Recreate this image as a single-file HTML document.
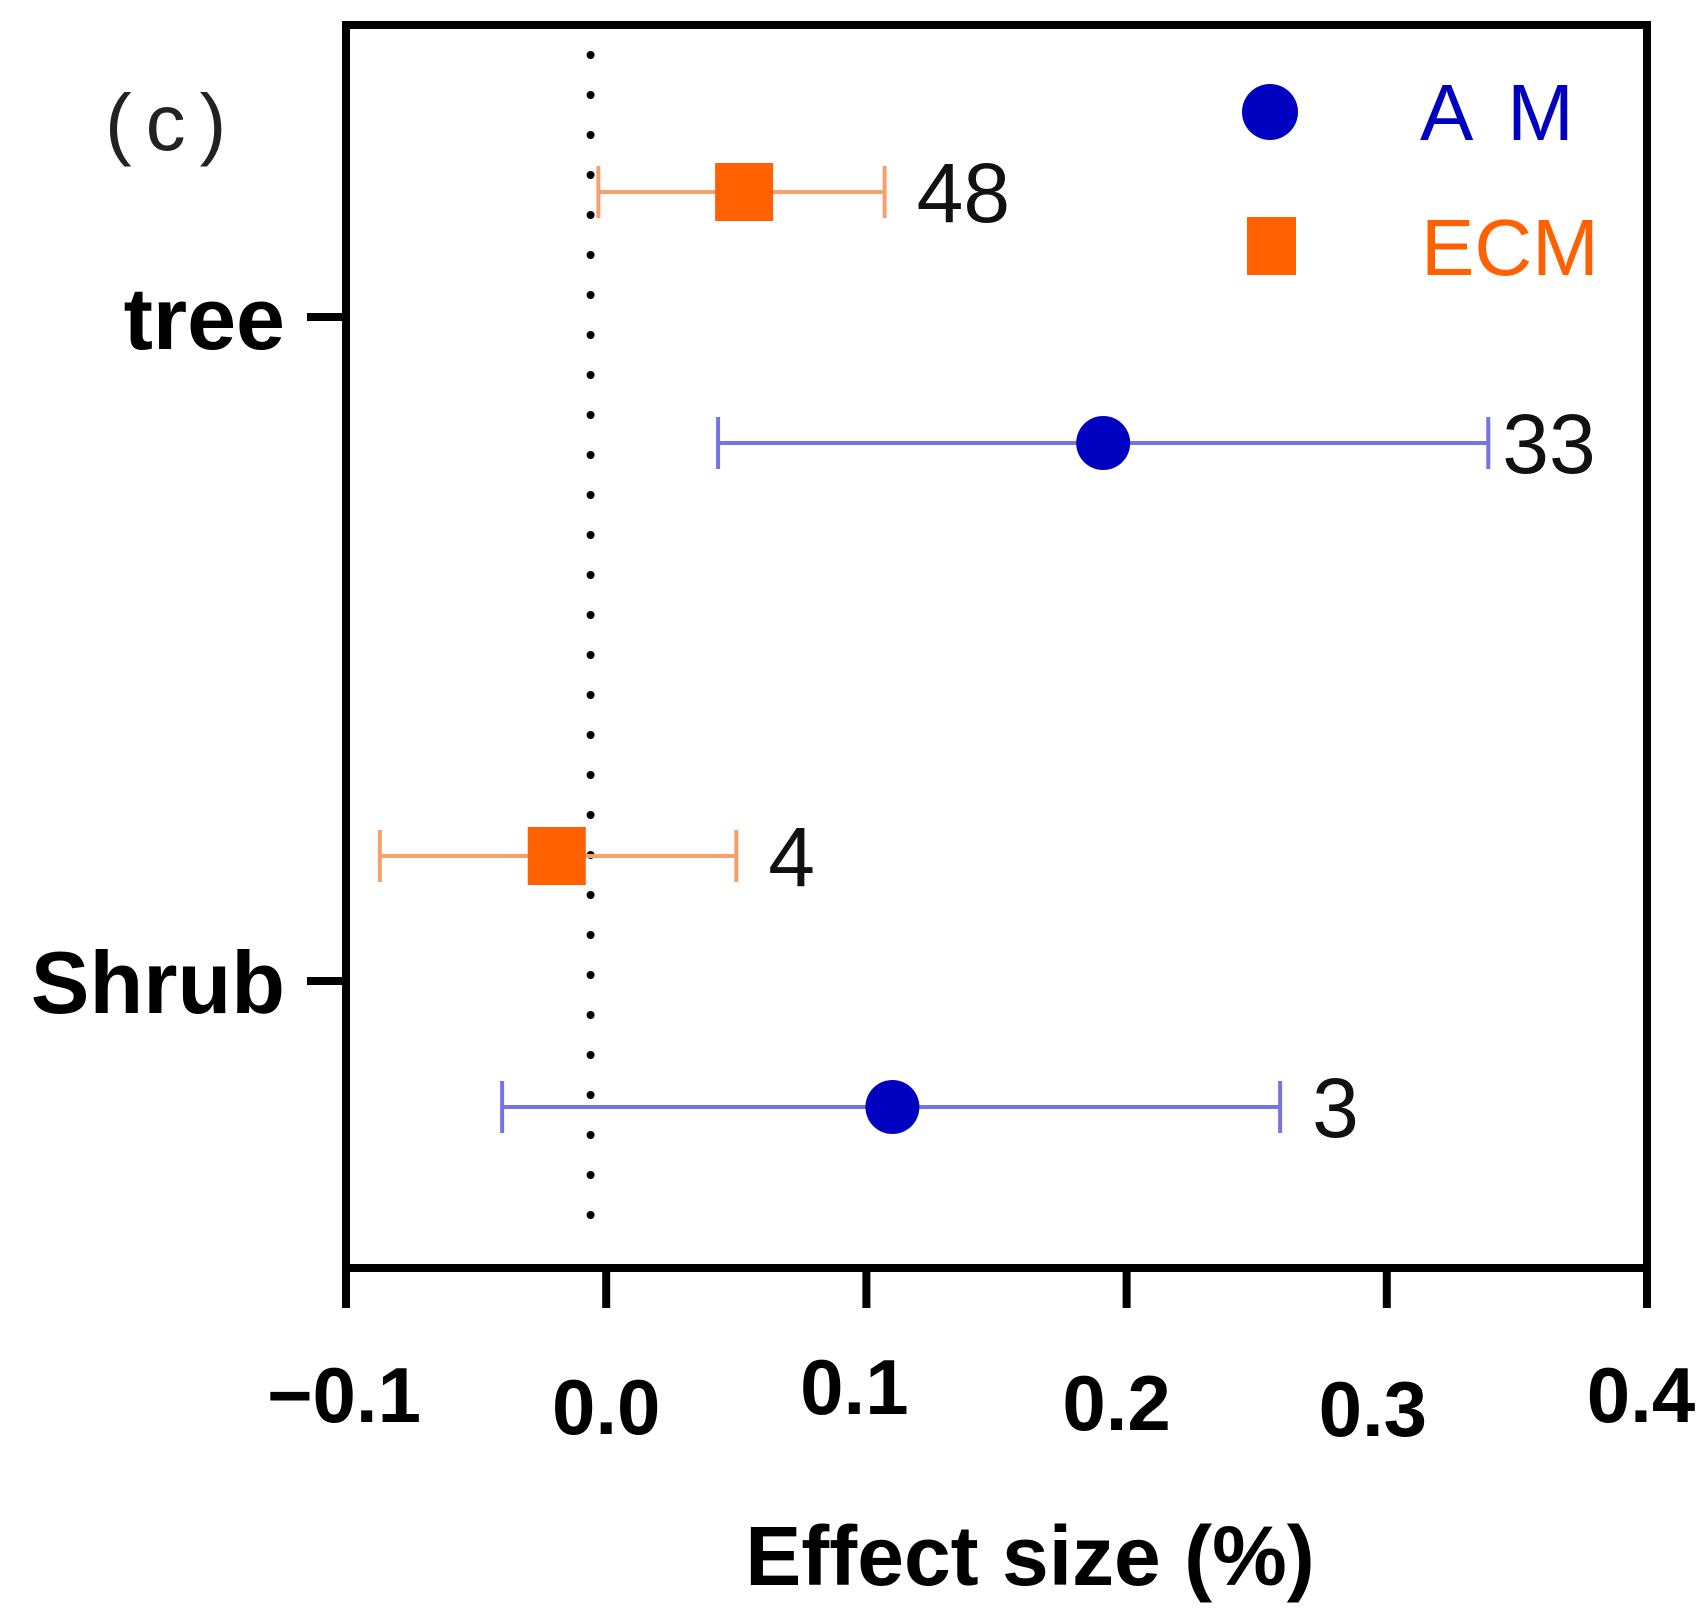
<!DOCTYPE html>
<html><head><meta charset="utf-8"><style>
html,body{margin:0;padding:0;background:#fff;}
svg{display:block;}
text{font-family:"Liberation Sans","Noto Sans CJK SC",sans-serif;}
</style></head><body>
<svg id="chart" width="1705" height="1620" viewBox="0 0 1705 1620" xmlns="http://www.w3.org/2000/svg">
<g id="marks"></g>
</svg>
<script>
const categories = ["tree", "Shrub"];
const seriesNames = ["AM", "ECM"];
const amMean = [0.191, 0.110];
const amLow = [0.043, -0.040];
const amHigh = [0.339, 0.259];
const amCount = ["33", "3"];
const ecmMean = [0.053, -0.019];
const ecmLow = [-0.003, -0.087];
const ecmHigh = [0.107, 0.050];
const ecmCount = ["48", "4"];
const xTicks = [-0.1, 0.0, 0.1, 0.2, 0.3, 0.4];
const xTickLabels = ["\u22120.1", "0.0", "0.1", "0.2", "0.3", "0.4"];
const refValue = -0.006;

const NS = "http://www.w3.org/2000/svg";
const svg = document.getElementById("chart");
const L = 346, R = 1647, T = 25, B = 1268;
function xs(v){ return L + (v - (-0.1)) / 0.5 * (R - L); }
const catY = [317, 981];
function ys(ci, series){ return catY[ci] + (series === "ECM" ? -125 : 126); }
function el(tag, attrs, parent){
  const e = document.createElementNS(NS, tag);
  for (const k in attrs) e.setAttribute(k, attrs[k]);
  (parent || svg).appendChild(e);
  return e;
}

// reference dotted line
const ref = el("line", {x1: xs(refValue), x2: xs(refValue), y1: 55, y2: 1245, stroke: "#000", "stroke-width": 8, "stroke-dasharray": "0 40", "stroke-linecap": "round"});



// frame
const frame = el("rect", {x: L, y: T, width: R - L, height: B - T, fill: "none", stroke: "#000", "stroke-width": 8});



// x ticks
const labelDy = [0, 12, -8, 8, 14, 0];
const labelDx = [-2, 0, -12, -10, -14, -6];
xTicks.forEach((v, i) => {
  const t = el("line", {x1: xs(v), x2: xs(v), y1: B, y2: 1308, stroke: "#000", "stroke-width": 8});
  
  
  const lb = el("text", {x: xs(v) + labelDx[i], y: 1422 + labelDy[i], "text-anchor": "middle", "font-size": 78, "font-weight": "bold", fill: "#000"});
  lb.textContent = xTickLabels[i];
  
  
});

// y ticks + labels
categories.forEach((c, i) => {
  const t = el("line", {x1: 307, x2: L, y1: catY[i], y2: catY[i], stroke: "#000", "stroke-width": 8});
  
  
  const lb = el("text", {x: 285, y: catY[i] + 32, "text-anchor": "end", "font-size": 88, "font-weight": "bold", fill: "#000"});
  lb.textContent = c;
  
  
});

function drawSeries(name, means, lows, highs, counts, lineColor, color, shape){
  means.forEach((m, i) => {
    const y = ys(i, name);
    const g = el("g", {});
    
    
    el("line", {x1: xs(lows[i]), x2: xs(highs[i]), y1: y, y2: y, stroke: lineColor, "stroke-width": 4}, g);
    el("line", {x1: xs(lows[i]), x2: xs(lows[i]), y1: y - 26, y2: y + 26, stroke: lineColor, "stroke-width": 4}, g);
    el("line", {x1: xs(highs[i]), x2: xs(highs[i]), y1: y - 26, y2: y + 26, stroke: lineColor, "stroke-width": 4}, g);
    if (shape === "circle") el("circle", {cx: xs(m), cy: y, r: 27, fill: color}, g);
    else el("rect", {x: xs(m) - 29, y: y - 29, width: 58, height: 58, fill: color}, g);
    const gap = counts[i].length > 1 && xs(highs[i]) > 1400 ? 14 : 32;
    const t = el("text", {x: xs(highs[i]) + gap, y: y + 30, "font-size": 84, fill: "#111"}, g);
    t.textContent = counts[i];
    
    
  });
}
drawSeries("ECM", ecmMean, ecmLow, ecmHigh, ecmCount, "#f7a06c", "#ff6000", "square");
drawSeries("AM", amMean, amLow, amHigh, amCount, "#7474e4", "#0000c0", "circle");

// legend
const lg = el("g", {});


const l1 = el("g", {}, lg);


el("circle", {cx: 1270, cy: 112, r: 28, fill: "#0000c0"}, l1);
const t1 = el("text", {x: 1420, y: 140, "font-size": 80, fill: "#0000c0", "letter-spacing": 8}, l1);
t1.textContent = "A M";
const l2 = el("g", {}, lg);


el("rect", {x: 1247, y: 217, width: 49, height: 58, fill: "#ff6000"}, l2);
const t2 = el("text", {x: 1421, y: 275, "font-size": 80, fill: "#ff6000"}, l2);
t2.textContent = "ECM";

// panel label
const pl = el("text", {x: 105, y: 150, "font-size": 80, fill: "#222", "letter-spacing": 14});
pl.textContent = "(c)";



// x-axis title
const xt = el("text", {x: 1030, y: 1585, "text-anchor": "middle", "font-size": 84, "font-weight": "bold", fill: "#000"});
xt.textContent = "Effect size (%)";


</script>
</body></html>
